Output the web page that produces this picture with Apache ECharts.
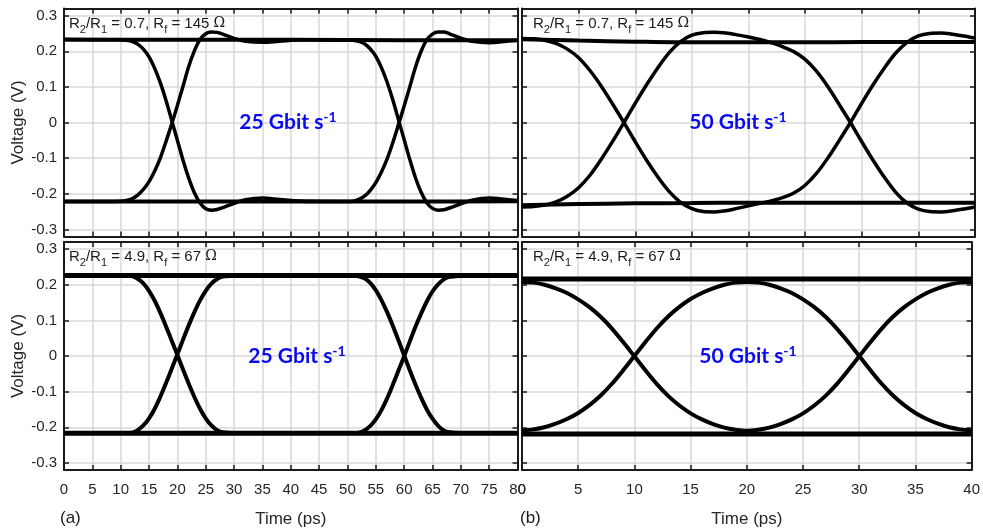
<!DOCTYPE html>
<html><head><meta charset="utf-8">
<script src="https://cdn.jsdelivr.net/npm/echarts@6/dist/echarts.min.js"></script>
<style>html,body{margin:0;padding:0;background:#fff}#c{width:983px;height:529px}</style>
</head><body><div id="c"></div>
<script>
// ---------- tick labels ----------
const Y_TICKS = [-0.3, -0.2, -0.1, 0, 0.1, 0.2, 0.3];
const X_TICKS_LEFT = [0, 5, 10, 15, 20, 25, 30, 35, 40, 45, 50, 55, 60, 65, 70, 75, 80];
const X_TICKS_RIGHT = [0, 5, 10, 15, 20, 25, 30, 35, 40];

// ---------- time samples (ps) ----------
const X_LEFT = [0,5,10,11,12,13,14,15,16,17,18,19,20,21,22,23,24,25,26,27,28,30,32,35,38,42,46,50,
  51,52,53,54,55,56,57,58,59,60,61,62,63,64,65,66,67,68,70,72,75,78,80];
const X_RIGHT = [0,1,2,3,4,5,6,7,8,9,10,11,12,13,14,15,16,17,18,19,20,21,22,23,24,25,26,27,28,29,30,
  31,32,33,34,35,36,37,38,39,40];
const X_FLAT_LEFT = [0, 20, 40, 60, 80];
const X_FLAT_RIGHT = [0, 5, 10, 15, 20, 25, 30, 35, 40];

// ---------- (a) top: 25 Gbit/s, R2/R1 = 0.7 ----------
const TL_101 = [0.233,0.232,0.232,0.231,0.228,0.220,0.206,0.184,0.152,0.111,0.062,0.006,-0.050,-0.106,-0.156,-0.197,-0.226,-0.242,-0.246,-0.244,-0.239,
  -0.227,-0.217,-0.212,-0.216,-0.221,-0.222,-0.222,
  -0.221,-0.216,-0.207,-0.191,-0.169,-0.139,-0.102,-0.057,-0.006,0.046,0.100,0.155,0.200,0.232,0.248,0.254,0.254,0.249,
  0.237,0.228,0.224,0.228,0.231];
const TL_010 = [-0.222,-0.222,-0.221,-0.219,-0.214,-0.204,-0.188,-0.166,-0.136,-0.099,-0.053,-0.004,0.048,0.102,0.157,0.201,0.233,0.249,0.254,0.253,0.248,
  0.236,0.228,0.225,0.228,0.232,0.232,0.232,
  0.231,0.228,0.221,0.207,0.186,0.154,0.113,0.064,0.008,-0.048,-0.104,-0.155,-0.196,-0.225,-0.241,-0.246,-0.245,-0.240,
  -0.228,-0.218,-0.212,-0.216,-0.219];
const TL_111 = [0.233, 0.232, 0.232, 0.231, 0.231];
const TL_000 = [-0.222, -0.222, -0.221, -0.222, -0.221];

// ---------- (a) bottom: 25 Gbit/s, R2/R1 = 4.9 ----------
const BL_101 = [0.226,0.226,0.226,0.226,0.224,0.217,0.204,0.183,0.155,0.121,0.083,0.043,0.003,-0.038,-0.078,-0.115,-0.148,-0.175,-0.195,-0.208,-0.214,
  -0.216,-0.216,-0.216,-0.216,-0.216,-0.216,-0.216,
  -0.216,-0.215,-0.209,-0.197,-0.178,-0.152,-0.119,-0.081,-0.041,-0.001,0.041,0.082,0.119,0.153,0.181,0.201,0.215,0.222,
  0.225,0.226,0.226,0.226,0.226];
const BL_010 = [-0.216,-0.216,-0.216,-0.216,-0.215,-0.208,-0.195,-0.175,-0.148,-0.114,-0.076,-0.036,0.005,0.046,0.086,0.123,0.156,0.183,0.203,0.216,0.223,
  0.225,0.226,0.226,0.226,0.226,0.226,0.226,
  0.226,0.224,0.218,0.205,0.185,0.157,0.123,0.085,0.044,0.002,-0.040,-0.080,-0.117,-0.150,-0.176,-0.196,-0.209,-0.214,
  -0.216,-0.216,-0.216,-0.216,-0.216];
const BL_111 = [0.226, 0.226, 0.226, 0.226, 0.226];
const BL_000 = [-0.217, -0.217, -0.217, -0.217, -0.217];

// ---------- (b) top: 50 Gbit/s, R2/R1 = 0.7 ----------
const TR_101 = [0.236,0.235,0.231,0.222,0.206,0.182,0.146,0.102,0.052,0.000,-0.054,-0.106,-0.153,-0.194,-0.224,-0.242,-0.250,-0.251,-0.248,-0.241,
  -0.234,-0.227,-0.220,-0.211,-0.198,-0.176,-0.143,-0.100,-0.051,0.000,0.054,0.106,0.153,0.195,0.225,0.243,0.250,0.251,0.248,0.243,0.237];
const TR_010 = [-0.237,-0.236,-0.232,-0.223,-0.207,-0.183,-0.148,-0.103,-0.053,0.000,0.054,0.106,0.154,0.196,0.227,0.245,0.252,0.253,0.251,0.246,
  0.240,0.233,0.224,0.213,0.199,0.177,0.144,0.101,0.051,0.000,-0.054,-0.106,-0.154,-0.196,-0.226,-0.243,-0.250,-0.251,-0.248,-0.243,-0.237];
const TR_111 = [0.234, 0.230, 0.227, 0.225, 0.225, 0.225, 0.226, 0.226, 0.226];
const TR_000 = [-0.232, -0.229, -0.227, -0.226, -0.225, -0.225, -0.225, -0.225, -0.225];

// ---------- (b) bottom: 50 Gbit/s, R2/R1 = 4.9 ----------
const BR_010 = [-0.209,-0.206,-0.200,-0.190,-0.177,-0.160,-0.138,-0.111,-0.078,-0.040,0.000,0.040,0.078,0.111,0.138,0.160,0.177,0.190,0.200,0.206,
  0.208,0.206,0.200,0.190,0.177,0.159,0.137,0.110,0.077,0.040,0.000,-0.040,-0.078,-0.111,-0.138,-0.160,-0.177,-0.190,-0.200,-0.206,-0.209];
const BR_101 = [0.208,0.206,0.200,0.190,0.177,0.159,0.137,0.110,0.077,0.039,-0.001,-0.041,-0.079,-0.112,-0.139,-0.161,-0.178,-0.191,-0.201,-0.207,
  -0.210,-0.207,-0.201,-0.191,-0.178,-0.161,-0.139,-0.112,-0.079,-0.041,-0.001,0.039,0.077,0.110,0.137,0.159,0.177,0.190,0.200,0.206,0.208];
const BR_111 = [0.216, 0.216, 0.216, 0.216, 0.216, 0.216, 0.216, 0.216, 0.216];
const BR_000 = [-0.219, -0.219, -0.219, -0.219, -0.219, -0.219, -0.219, -0.219, -0.219];

// ---------- texts ----------
const RATE_LEFT = '25 Gbit s';
const RATE_RIGHT = '50 Gbit s';
const ANNOT_TOP = ['0.7', '145'];
const ANNOT_BOTTOM = ['4.9', '67'];

// ---------- styling / layout ----------
const AX = '#1a1a1a';
const GRIDC = '#d9d9d9';
const FONT = 'Liberation Sans';
const BLUE = '#0a0af0';
const grids = [
  {left: 64, top: 8.5, width: 453.5, height: 228},
  {left: 522, top: 8.5, width: 453, height: 228},
  {left: 64, top: 242, width: 453.5, height: 228},
  {left: 522, top: 242, width: 453, height: 228}
];
const xMax = [80, 40, 80, 40];
const xTicks = [X_TICKS_LEFT, X_TICKS_RIGHT, X_TICKS_LEFT, X_TICKS_RIGHT];

const xAxis = [], yAxis = [];
grids.forEach((g, gi) => {
  const bottomRow = gi >= 2, leftCol = gi % 2 === 0;
  const common = {type: 'value', gridIndex: gi, min: 0, max: xMax[gi], interval: 5};
  xAxis.push(Object.assign({}, common, {
    position: 'bottom',
    axisLine: {onZero: false, lineStyle: {color: AX, width: 2}},
    axisTick: {inside: true, length: 5, lineStyle: {color: AX, width: 1.5}},
    axisLabel: {show: bottomRow, fontFamily: FONT, fontSize: 15, color: '#262626', margin: 12,
      formatter: v => xTicks[gi].includes(v) ? String(v) : ''},
    splitLine: {show: true, lineStyle: {color: GRIDC, width: 1.5}},
    name: bottomRow ? 'Time (ps)' : '', nameLocation: 'middle', nameGap: 41,
    nameTextStyle: {fontFamily: FONT, fontSize: 17, color: '#262626'}
  }));
  xAxis.push(Object.assign({}, common, {
    position: 'top',
    axisLine: {onZero: false, lineStyle: {color: AX, width: 2}},
    axisTick: {inside: true, length: 5, lineStyle: {color: AX, width: 1.5}},
    axisLabel: {show: false}, splitLine: {show: false}
  }));
  const ycommon = {type: 'value', gridIndex: gi, min: -0.32, max: 0.32, splitNumber: 6};
  const fmt = v => { const r = Math.round(v * 10) / 10; return (Math.abs(v - r) < 1e-6 && Y_TICKS.includes(r)) ? String(r) : ''; };
  yAxis.push(Object.assign({}, ycommon, {
    position: 'left',
    axisLine: {onZero: false, lineStyle: {color: AX, width: 2}},
    axisTick: {inside: true, length: 5, lineStyle: {color: AX, width: 1.5}},
    axisLabel: {show: leftCol, fontFamily: FONT, fontSize: 15, color: '#262626', margin: 7, formatter: fmt},
    splitLine: {show: true, lineStyle: {color: GRIDC, width: 1.5}},
    name: leftCol ? 'Voltage (V)' : '', nameLocation: 'middle', nameGap: 31,
    nameTextStyle: {fontFamily: FONT, fontSize: 17, color: '#262626'}
  }));
  yAxis.push(Object.assign({}, ycommon, {
    position: 'right',
    axisLine: {onZero: false, lineStyle: {color: AX, width: 2}},
    axisTick: {inside: true, length: 5, lineStyle: {color: AX, width: 1.5}},
    axisLabel: {show: false}, splitLine: {show: false}
  }));
});

function trace(gi, xs, ys, w) {
  return {
    type: 'line', xAxisIndex: gi * 2, yAxisIndex: gi * 2,
    data: xs.map((x, i) => [x, ys[i]]),
    symbol: 'none', showSymbol: false, smooth: 0.3, silent: true, animation: false,
    lineStyle: {color: '#000', width: w, cap: 'butt'}, itemStyle: {color: '#000'}, z: 3
  };
}
const series = [
  trace(0, X_FLAT_LEFT, TL_111, 4), trace(0, X_FLAT_LEFT, TL_000, 4),
  trace(0, X_LEFT, TL_101, 3.5), trace(0, X_LEFT, TL_010, 3.5),
  trace(1, X_FLAT_RIGHT, TR_111, 4), trace(1, X_FLAT_RIGHT, TR_000, 4),
  trace(1, X_RIGHT, TR_101, 3.5), trace(1, X_RIGHT, TR_010, 3.5),
  trace(2, X_FLAT_LEFT, BL_111, 5), trace(2, X_FLAT_LEFT, BL_000, 5),
  trace(2, X_LEFT, BL_101, 4), trace(2, X_LEFT, BL_010, 4),
  trace(3, X_FLAT_RIGHT, BR_111, 5), trace(3, X_FLAT_RIGHT, BR_000, 5),
  trace(3, X_RIGHT, BR_101, 4), trace(3, X_RIGHT, BR_010, 4)
];

const annRich = {
  m: {fontFamily: FONT, fontSize: 15, lineHeight: 17, verticalAlign: 'top', fill: '#1a1a1a'},
  s: {fontFamily: FONT, fontSize: 11, lineHeight: 11, padding: [8, 0, 0, 0], verticalAlign: 'top', fill: '#1a1a1a'},
  o: {fontFamily: 'DejaVu Serif', fontSize: 14, lineHeight: 17, verticalAlign: 'top', fill: '#1a1a1a'}
};
function annText(v) { return '{m|R}{s|2}{m|/R}{s|1}{m| = ' + v[0] + ', R}{s|f}{m| = ' + v[1] + ' }{o|Ω}'; }
const rateRich = {
  b: {fontFamily: 'Lato', fontWeight: 'bold', fontSize: 21, lineHeight: 24, fill: BLUE},
  p: {fontFamily: 'Lato', fontWeight: 'bold', fontSize: 14, lineHeight: 14, verticalAlign: 'top', fill: BLUE}
};
function rateText(t) { return '{b|' + t + '}{p|-1}'; }

const graphic = [
  {type: 'text', x: 69, y: 16, z: 10, style: {text: annText(ANNOT_TOP), rich: annRich}},
  {type: 'text', x: 533, y: 16, z: 10, style: {text: annText(ANNOT_TOP), rich: annRich}},
  {type: 'text', x: 69, y: 249, z: 10, style: {text: annText(ANNOT_BOTTOM), rich: annRich}},
  {type: 'text', x: 533, y: 249, z: 10, style: {text: annText(ANNOT_BOTTOM), rich: annRich}},
  {type: 'text', x: 288, y: 122, z: 10, style: {text: rateText(RATE_LEFT), rich: rateRich, align: 'center', verticalAlign: 'middle'}},
  {type: 'text', x: 738, y: 122, z: 10, style: {text: rateText(RATE_RIGHT), rich: rateRich, align: 'center', verticalAlign: 'middle'}},
  {type: 'text', x: 297, y: 356, z: 10, style: {text: rateText(RATE_LEFT), rich: rateRich, align: 'center', verticalAlign: 'middle'}},
  {type: 'text', x: 748, y: 356, z: 10, style: {text: rateText(RATE_RIGHT), rich: rateRich, align: 'center', verticalAlign: 'middle'}},
  {type: 'text', x: 60, y: 518, z: 10, style: {text: '(a)', font: '17px "Liberation Sans"', fill: '#1a1a1a', verticalAlign: 'middle'}},
  {type: 'text', x: 520, y: 518, z: 10, style: {text: '(b)', font: '17px "Liberation Sans"', fill: '#1a1a1a', verticalAlign: 'middle'}}
];

const chart = echarts.init(document.getElementById('c'), null, {renderer: 'canvas'});
chart.setOption({
  backgroundColor: '#fff', animation: false,
  grid: grids, xAxis: xAxis, yAxis: yAxis, series: series, graphic: graphic
});
</script></body></html>
